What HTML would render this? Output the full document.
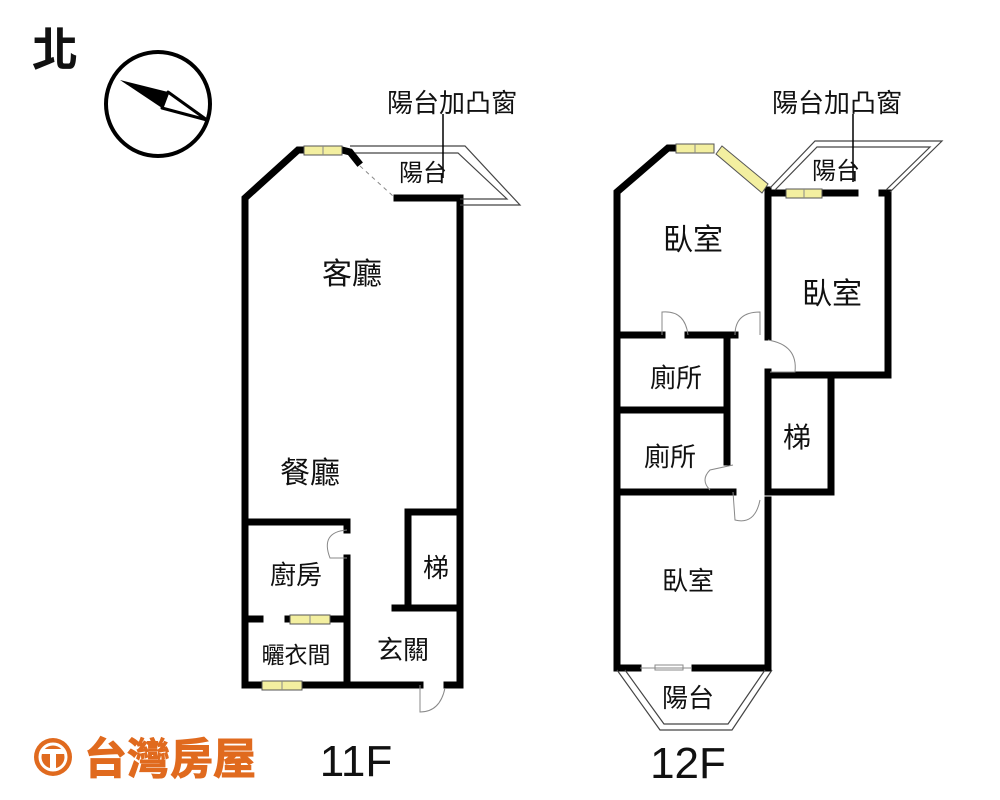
<!DOCTYPE html>
<html><head><meta charset="utf-8"><style>
html,body{margin:0;padding:0;background:#fff;}
svg{display:block;}
text{font-family:"Liberation Sans","Noto Sans CJK TC",sans-serif;fill:#111;}
</style></head><body>
<svg width="1000" height="800" viewBox="0 0 1000 800" xmlns="http://www.w3.org/2000/svg">
<rect width="1000" height="800" fill="#fff"/>
<!-- North -->
<text x="32" y="66" font-size="46" font-weight="bold" font-family="Noto Sans CJK TC,sans-serif">北</text>
<circle cx="158" cy="104" r="52" fill="none" stroke="#000" stroke-width="4"/>
<polygon points="120,80 168,92 162,108" fill="#000"/>
<polygon points="168,92 207,120 162,108" fill="#fff" stroke="#000" stroke-width="3" stroke-linejoin="round"/>

<g stroke="#000" stroke-width="7" fill="none" stroke-linecap="square">
<!-- 11F -->
<polyline points="245,685 245,198 298,150 303,150"/>
<polyline points="342,150 350,152 358,162"/>
<polyline points="397,198 460,198 460,685 447,685"/>
<polyline points="420,685 245,685"/>
<polyline points="245,522 347,522 347,530"/>
<polyline points="347,558 347,685"/>
<line x1="245" y1="619" x2="260" y2="619"/>
<line x1="288" y1="619" x2="347" y2="619"/>
<polyline points="408,608 408,512 460,512"/>
<line x1="395" y1="608" x2="460" y2="608"/>
<!-- 12F -->
<polyline points="617,668 617,192 668,148 673,148"/>
<polyline points="768,190 768,337"/>
<polyline points="768,372 768,490"/>
<polyline points="768,500 768,668 695,668"/>
<line x1="638" y1="668" x2="617" y2="668"/>
<polyline points="768,193 855,193"/>
<polyline points="882,193 888,193 888,375 768,375"/>
<polyline points="768,375 831,375 831,492 768,492"/>
<line x1="617" y1="335" x2="662" y2="335"/>
<line x1="688" y1="335" x2="735" y2="335"/>
<line x1="727" y1="335" x2="727" y2="462"/>
<line x1="617" y1="410" x2="727" y2="410"/>
<line x1="617" y1="492" x2="733" y2="492"/>
</g>
<!-- windows -->
<g fill="#f3efa0" stroke="#555" stroke-width="1">
<rect x="304" y="146" width="38" height="9"/>
<rect x="290" y="615" width="40" height="9"/>
<rect x="262" y="681" width="40" height="9"/>
<rect x="676" y="144" width="38" height="9"/>
<rect x="786" y="189" width="36" height="9"/>
<polygon points="722,146 768,184 762,193 716,154"/>
</g>
<g stroke="#888" stroke-width="1" fill="none">
<line x1="323" y1="146" x2="323" y2="155"/><line x1="282" y1="681" x2="282" y2="690"/>
<line x1="310" y1="615" x2="310" y2="624"/><line x1="695" y1="144" x2="695" y2="153"/>
<line x1="804" y1="189" x2="804" y2="198"/>
<line x1="360" y1="166" x2="393" y2="196" stroke-dasharray="4,4"/>
<path d="M347,530 Q320,532 330,558 L347,558"/>
<path d="M420,685 L420,712 Q440,712 445,688"/>
<path d="M662,335 L662,312 Q685,310 688,335"/>
<path d="M735,335 Q735,312 760,312 L760,335"/>
<path d="M768,340 Q798,345 795,372 L770,372"/>
<path d="M733,465 L710,470 Q700,480 710,490"/>
<path d="M733,492 L735,520 Q755,525 760,500"/>
<line x1="640" y1="668" x2="692" y2="668"/>
<rect x="655" y="665" width="28" height="5"/>
</g>
<!-- balconies double lines -->
<g stroke="#444" stroke-width="1.2" fill="none">
<polyline points="350,146 465,146 520,205 460,205"/>
<polyline points="355,153 458,153 507,199 460,199"/>
<polyline points="770,188 815,141 942,141 890,192"/>
<polyline points="775,190 817,147 930,147 886,190"/>
<polyline points="617,670 660,730 732,730 772,670"/>
<polyline points="625,670 664,724 728,724 765,670"/>
</g>
<line x1="443" y1="114" x2="443" y2="178" stroke="#000" stroke-width="1.5"/>
<line x1="853" y1="114" x2="853" y2="182" stroke="#000" stroke-width="1.5"/>
<g font-size="26" text-anchor="middle">
<text x="452" y="112">陽台加凸窗</text>
<text x="837" y="112">陽台加凸窗</text>
<text x="423" y="181" font-size="24">陽台</text>
<text x="352" y="284" font-size="30">客廳</text>
<text x="310" y="483" font-size="30">餐廳</text>
<text x="296" y="584">廚房</text>
<text x="296" y="663" font-size="23">曬衣間</text>
<text x="403" y="659">玄關</text>
<text x="436" y="577">梯</text>
<text x="693" y="250" font-size="30">臥室</text>
<text x="832" y="304" font-size="30">臥室</text>
<text x="676" y="387">廁所</text>
<text x="670" y="466">廁所</text>
<text x="797" y="447" font-size="28">梯</text>
<text x="688" y="590">臥室</text>
<text x="688" y="707">陽台</text>
<text x="836" y="179" font-size="24">陽台</text>
<text x="356" y="776" font-size="44">11F</text>
<text x="688" y="778" font-size="44">12F</text>
</g>
<!-- logo -->
<circle cx="53" cy="757" r="19" fill="#e06a1e"/>
<circle cx="53" cy="757" r="13" fill="none" stroke="#fff" stroke-width="3"/>
<rect x="41" y="749" width="24" height="5" fill="#fff"/><rect x="50" y="749" width="6" height="20" fill="#fff"/>
<text x="84" y="774" font-size="43" font-weight="bold" style="fill:#e06a1e;stroke:#e06a1e;stroke-width:1" font-family="Noto Sans CJK TC,sans-serif">台灣房屋</text>
</svg>
</body></html>
